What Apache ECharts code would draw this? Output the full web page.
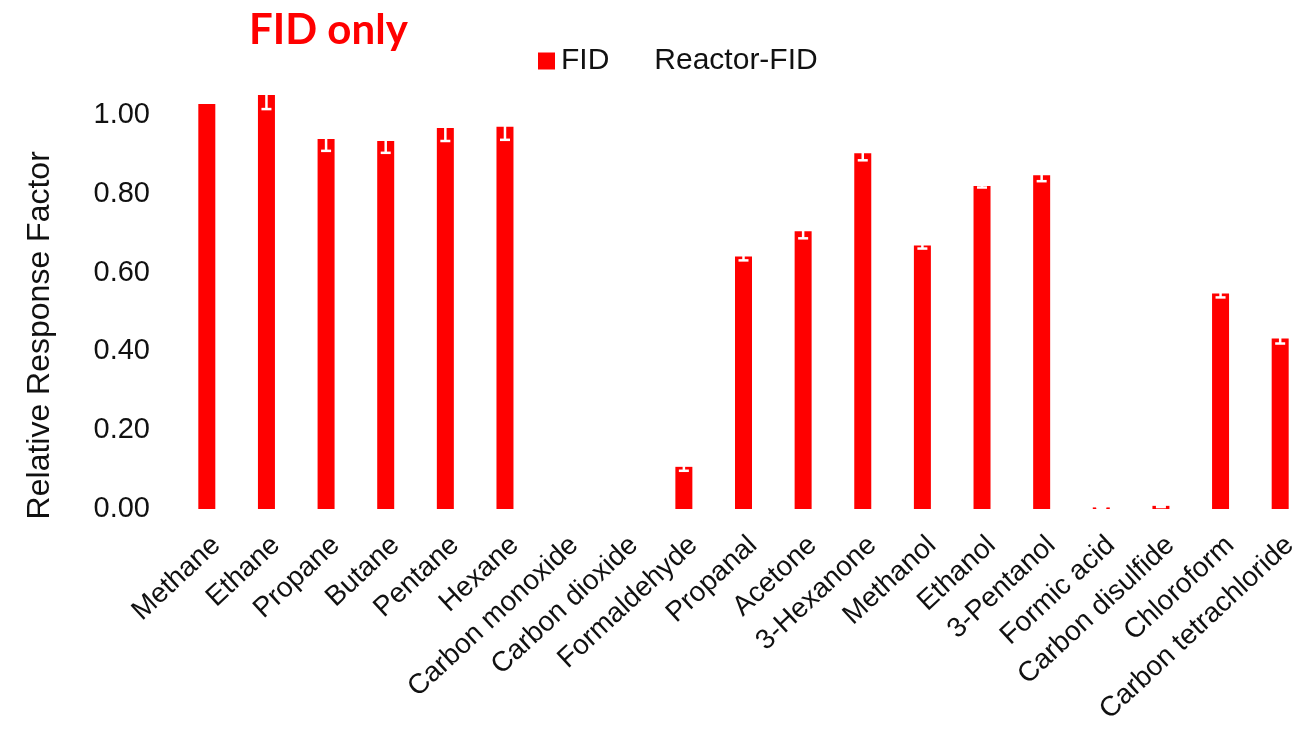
<!DOCTYPE html>
<html>
<head>
<meta charset="utf-8">
<script src="https://cdn.jsdelivr.net/npm/echarts@6/dist/echarts.min.js"></script>
<style>
html,body{margin:0;padding:0;background:#fff;}
#chart{width:1299px;height:734px;}
</style>
</head>
<body>
<div id="chart"></div>
<script>
var categories = ['Methane','Ethane','Propane','Butane','Pentane','Hexane','Carbon monoxide','Carbon dioxide','Formaldehyde','Propanal','Acetone','3-Hexanone','Methanol','Ethanol','3-Pentanol','Formic acid','Carbon disulfide','Chloroform','Carbon tetrachloride'];
var fidValues = [1.028, 1.051, 0.939, 0.934, 0.967, 0.970, 0, 0, 0.107, 0.641, 0.705, 0.903, 0.669, 0.820, 0.847, 0.004, 0.008, 0.547, 0.433];
var fidErrors = [0, 0.036, 0.030, 0.030, 0.033, 0.033, 0, 0, 0.010, 0.010, 0.018, 0.018, 0.008, 0.004, 0.015, 0.002, 0.003, 0.010, 0.013];
var reactorValues = [];
var yTicks = [0, 0.2, 0.4, 0.6, 0.8, 1.0];

var errData = fidValues.map(function (v, i) { return [i, v, fidErrors[i]]; });

var chart = echarts.init(document.getElementById('chart'));
chart.setOption({
  backgroundColor: '#ffffff',
  animation: false,
  title: {
    text: 'FID only',
    left: 249,
    top: 9,
    padding: 0,
    textStyle: { color: '#ff0000', fontSize: 42, fontWeight: 'bold', fontFamily: 'Lato' }
  },
  legend: {
    left: 533,
    top: 41,
    itemWidth: 17,
    itemHeight: 17,
    itemGap: 22,
    icon: 'rect',
    textStyle: { color: '#111', fontSize: 30, fontFamily: 'Liberation Sans', padding: [0, 0, 0, 1] },
    data: ['FID', 'Reactor-FID']
  },
  grid: { left: 177, width: 1133, top: 75.6, bottom: 225, containLabel: false, outerBoundsMode: 'none' },
  xAxis: {
    type: 'category',
    data: categories,
    axisLine: { show: false },
    axisTick: { show: false },
    axisLabel: {
      rotate: 43,
      interval: 0,
      margin: 22,
      verticalAlign: 'top',
      color: '#111',
      fontSize: 28,
      fontFamily: 'Liberation Sans'
    }
  },
  yAxis: {
    type: 'value',
    min: 0,
    max: 1.1,
    interval: 0.2,
    name: 'Relative Response Factor',
    nameLocation: 'middle',
    nameGap: 121,
    nameTextStyle: { color: '#111', fontSize: 32, fontFamily: 'Liberation Sans', padding: [0, 86, 0, 0] },
    axisLine: { show: false },
    axisTick: { show: false },
    splitLine: { show: false },
    axisLabel: {
      showMaxLabel: false,
      margin: 27,
      color: '#111',
      fontSize: 29,
      fontFamily: 'Liberation Sans',
      formatter: function (v) { return yTicks.indexOf(Math.round(v * 10) / 10) >= 0 ? v.toFixed(2) : ''; }
    }
  },
  series: [
    {
      name: 'FID',
      type: 'bar',
      data: fidValues,
      barWidth: 17,
      barGap: '-100%',
      itemStyle: { color: '#ff0000' }
    },
    {
      name: 'Reactor-FID',
      type: 'bar',
      data: reactorValues,
      barWidth: 17,
      barGap: '-100%',
      itemStyle: { color: '#ffffff' }
    },
    {
      name: 'err',
      type: 'custom',
      clip: false,
      silent: true,
      data: errData,
      renderItem: function (params, api) {
        var idx = api.value(0), v = api.value(1), e = api.value(2);
        if (!v || !e) return null;
        var hi = api.coord([idx, v + e]);
        var lo = api.coord([idx, v - e]);
        var hw = 5;
        var style = { stroke: '#ffffff', lineWidth: 2.5 };
        return {
          type: 'group',
          children: [
            { type: 'line', shape: { x1: hi[0], y1: hi[1], x2: lo[0], y2: lo[1] }, style: style },
            { type: 'line', shape: { x1: hi[0] - hw, y1: hi[1], x2: hi[0] + hw, y2: hi[1] }, style: style },
            { type: 'line', shape: { x1: lo[0] - hw, y1: lo[1], x2: lo[0] + hw, y2: lo[1] }, style: style }
          ]
        };
      },
      z: 5
    }
  ]
});
</script>
</body>
</html>
